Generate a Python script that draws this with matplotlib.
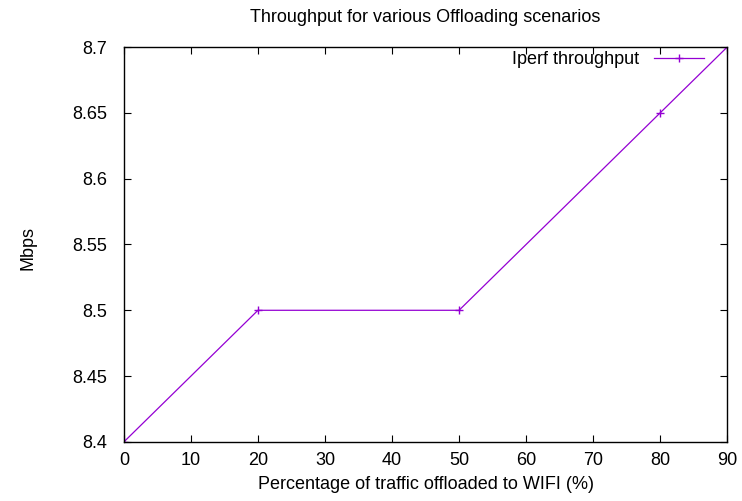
import matplotlib
matplotlib.use("Agg")
import matplotlib.pyplot as plt

# Data
offload_pct = [0, 20, 50, 80, 90]
throughput = [8.4, 8.5, 8.5, 8.65, 8.7]
x_ticks = [0, 10, 20, 30, 40, 50, 60, 70, 80, 90]
y_ticks = [8.4, 8.45, 8.5, 8.55, 8.6, 8.65, 8.7]

plt.rcParams['font.family'] = ['Liberation Sans', 'DejaVu Sans']
plt.rcParams['font.size'] = 13

fig = plt.figure(figsize=(7.42, 5.01), dpi=100)
ax = fig.add_axes([0.167, 0.118, 0.813, 0.788])

ax.plot(offload_pct, throughput, color='#9400d3', linewidth=0.9,
        marker='+', markersize=6, markeredgewidth=1.0, label='Iperf throughput')

ax.set_xlim(0, 90)
ax.set_ylim(8.4, 8.7)
ax.set_xticks(x_ticks)
ax.set_yticks(y_ticks)
ax.set_yticklabels(['%g' % v for v in y_ticks])
ax.tick_params(direction='in', top=True, right=True, length=5, width=0.8)
ax.tick_params(axis='x', pad=7)
ax.tick_params(axis='y', pad=12)
for s in ax.spines.values():
    s.set_linewidth(1.0)

ax.set_title('Throughput for various Offloading scenarios', fontsize=13, pad=18)
ax.set_xlabel('Percentage of traffic offloaded to WIFI (%)', labelpad=5)
ax.set_ylabel('Mbps')
ax.yaxis.set_label_coords(-0.145, 0.49)

ax.legend(loc='upper right', bbox_to_anchor=(0.962, 0.99), frameon=False,
          markerfirst=False, handlelength=2.8, handletextpad=0.8,
          borderpad=0, borderaxespad=0, fontsize=13)

fig.savefig('out.png', dpi=100)
